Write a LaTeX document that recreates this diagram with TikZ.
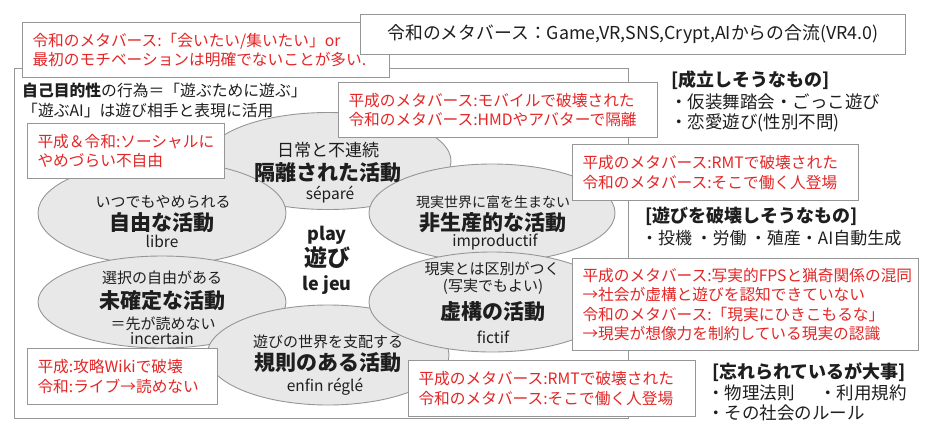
\documentclass[tikz,border=0pt]{standalone}
\usepackage{fontspec}
\setmainfont{Noto Sans CJK JP}
\usepackage{xcolor}
\usepackage{tikz}
\usetikzlibrary{positioning,shapes.geometric}

\definecolor{memored}{RGB}{228,38,38}
\definecolor{inkgray}{RGB}{30,30,30}
\definecolor{rimgray}{RGB}{150,150,150}
\definecolor{blobgray}{RGB}{232,232,232}
\newcommand{\sz}[2]{\fontsize{#1}{#2}\selectfont}

\begin{document}
\begin{tikzpicture}[x=1pt,y=-1pt,
  blob/.style={ellipse,draw=rimgray,fill=blobgray,line width=0.9pt,inner sep=0pt},
  memo/.style={draw=rimgray,fill=white,line width=1pt,anchor=north west,inner xsep=10pt,inner ysep=0pt,align=left,text=memored,font=\sz{15.7}{19.5}},
  lbl/.style={inner sep=0pt,text=inkgray},
  hint/.style={lbl,font=\sz{15}{18}},
  title/.style={lbl,font=\bfseries\sz{21}{24}},
  fr/.style={lbl,font=\sz{15.5}{18}},
  head/.style={lbl,anchor=west,font=\bfseries\sz{18}{21}},
  item/.style={lbl,anchor=west,font=\sz{17.5}{21}}]
\useasboundingbox (0,0) rectangle (925,440);

% outer frame
\node[draw=rimgray,line width=1pt,minimum width=614,minimum height=350,anchor=north west,inner sep=0pt] (frame) at (14,68) {};

% six aspects of play
\node[blob,minimum width=246,minimum height=97] (sepe) at (328,161) {};
\node[blob,minimum width=248,minimum height=104] (libr) at (162,213) {};
\node[blob,minimum width=246,minimum height=98] (impr) at (492,213) {};
\node[blob,minimum width=248,minimum height=92] (ince) at (162,302) {};
\node[blob,minimum width=242,minimum height=100] (regl) at (328,355) {};
\node[blob,minimum width=246,minimum height=100] (fict) at (492,302) {};

\node[lbl,font=\sz{17}{20}] (sepe1) at (328,150) {日常と不連続};
\node[title] (sepe2) at (328,173) {隔離された活動};
\node[fr] (sepe3) at (330,195) {séparé};

\node[hint] (libr1) at (163,202) {いつでもやめられる};
\node[title] (libr2) at (162,223) {自由な活動};
\node[fr] (libr3) at (162,241) {libre};

\node[lbl,font=\sz{14}{17}] (impr1) at (493,202) {現実世界に富を生まない};
\node[title] (impr2) at (493,223) {非生産的な活動};
\node[fr] (impr3) at (495,242) {improductif};

\node[hint] (ince1) at (162,278) {選択の自由がある};
\node[title] (ince2) at (162,301) {未確定な活動};
\node[hint] (ince3) at (163,324) {＝先が読めない};
\node[fr] (ince4) at (162,339) {incertain};

\node[hint] (fict1) at (492,269) {現実とは区別がつく};
\node[hint] (fict2) at (493,287) {(写実でもよい)};
\node[title] (fict3) at (493,312) {虚構の活動};
\node[fr] (fict4) at (493,337) {fictif};

\node[hint] (regl1) at (328,342) {遊びの世界を支配する};
\node[title] (regl2) at (328,363) {規則のある活動};
\node[fr] (regl3) at (325,387) {enfin réglé};

\node[lbl,font=\bfseries\sz{18}{20}] (play) at (327,235) {play};
\node[lbl,font=\bfseries\sz{23}{26}] (asobi) at (327,258) {遊び};
\node[lbl,font=\bfseries\sz{18}{20}] (jeu) at (327,285) {le jeu};

\node[lbl,anchor=west,align=left,font=\sz{15.8}{20}] (intro) at (22,100)
  {\textbf{自己目的性}の行為＝「遊ぶために遊ぶ」\\「遊ぶAI」は遊び相手と表現に活用};

% memos
\node[memo,text width=347,minimum height=55] (reiwa) at (22,22)
  {令和のメタバース:「会いたい/集いたい」or\\最初のモチベーションは明確でないことが多い.};
\node[memo,text width=525,minimum height=40,align=center,text=inkgray,font=\sz{17.8}{20}] (merge) at (360,14)
  {令和のメタバース：Game,VR,SNS,Crypt,AIからの合流(VR4.0)};
\node[memo,text width=299,minimum height=55] (hmd) at (338,82)
  {平成のメタバース:モバイルで破壊された\\令和のメタバース:HMDやアバターで隔離};
\node[memo,text width=266,minimum height=56] (rmt) at (572,144)
  {平成のメタバース:RMTで破壊された\\令和のメタバース:そこで働く人登場};
\node[memo,text width=326,minimum height=92] (fps) at (572,258)
  {平成のメタバース:写実的FPSと猟奇関係の混同\\→社会が虚構と遊びを認知できていない\\令和のメタバース:「現実にひきこもるな」\\→現実が想像力を制約している現実の認識};
\node[memo,text width=267,minimum height=56] (rmtb) at (408,360)
  {平成のメタバース:RMTで破壊された\\令和のメタバース:そこで働く人登場};
\node[memo,text width=177,minimum height=55] (social) at (27,123)
  {平成＆令和:ソーシャルに\\やめづらい不自由};
\node[memo,text width=170,minimum height=56] (wiki) at (27,348)
  {平成:攻略Wikiで破壊\\令和:ライブ→読めない};

% lists on the right
\node[head] (okhead) at (671,80) {[成立しそうなもの]};
\node[item] (ok1) at (670,102) {・仮装舞踏会・ごっこ遊び};
\node[item] (ok2) at (670,123) {・恋愛遊び(性別不問)};
\node[head] (nghead) at (645,216) {[遊びを破壊しそうなもの]};
\node[item,font=\sz{17}{21}] (ng1) at (641,238) {・投機\hspace{0.2em}・労働\hspace{0.2em}・殖産・AI自動生成};
\node[head] (kyhead) at (712,372) {[忘れられているが大事]};
\node[item] (ky1) at (707,393) {・物理法則\hspace{1.4em}・利用規約};
\node[item] (ky2) at (707,413) {・その社会のルール};
\end{tikzpicture}
\end{document}
